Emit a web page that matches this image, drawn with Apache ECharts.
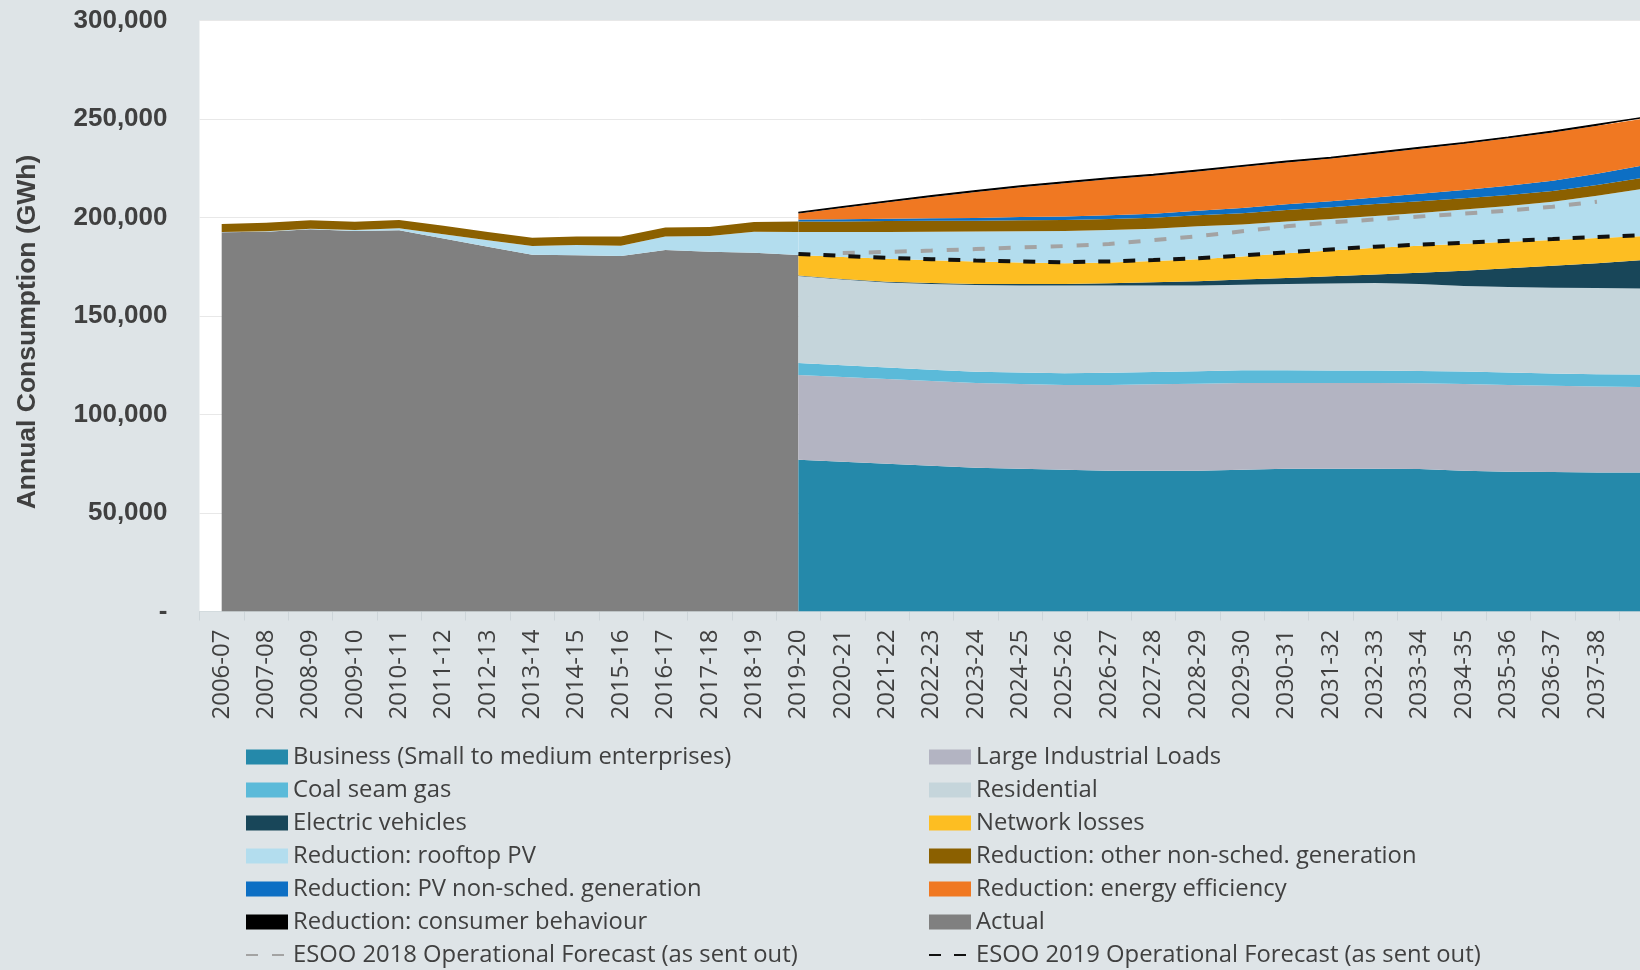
<!DOCTYPE html>
<html>
<head>
<meta charset="utf-8">
<script src="https://cdn.jsdelivr.net/npm/echarts@6/dist/echarts.min.js"></script>
<style>
html,body{margin:0;padding:0;background:#dee4e7;}
#chart{width:1640px;height:970px;}
</style>
</head>
<body>
<div id="chart"></div>
<script>
// ---------- DATA (GWh) ----------
const categories = ['2006-07','2007-08','2008-09','2009-10','2010-11','2011-12','2012-13','2013-14','2014-15','2015-16','2016-17','2017-18','2018-19','2019-20','2020-21','2021-22','2022-23','2023-24','2024-25','2025-26','2026-27','2027-28','2028-29','2029-30','2030-31','2031-32','2032-33','2033-34','2034-35','2035-36','2036-37','2037-38','2038-39'];

// historical period (2006-07 .. 2019-20)
const actual        = [192500,192800,194000,193100,193500,189400,185200,181100,180800,180500,183500,182600,182100,181000];
const rooftopPVHist = [100,200,300,500,1000,2100,3200,4400,5200,5200,6800,8000,10700,11600];
const otherNonSchedHist = [4100,4300,4300,4200,4200,4300,4300,4200,4400,4600,4600,4600,4900,5400];

// forecast period (2019-20 .. 2038-39)
const business      = [77000,76000,75000,74000,73000,72500,72000,71500,71500,71500,72000,72500,72500,72500,72300,71500,71000,70800,70600,70500];
const largeIndustrial = [43000,43000,43000,43000,43000,43000,43000,43500,43800,44100,44000,43500,43500,43500,43500,44000,44000,43800,43600,43500];
const coalSeamGas   = [6200,6000,5800,5700,5700,5800,6000,6200,6300,6400,6400,6400,6300,6300,6300,6300,6300,6200,6200,6300];
const residential   = [44100,43500,43200,43500,44000,44200,44500,44300,43900,43500,43400,43800,44200,44400,44200,43400,43400,43600,43800,43700];
const electricVehicles = [200,300,400,500,600,700,800,1100,1600,2200,2700,3100,3700,4400,5700,7800,9500,11100,12600,14300];
const networkLosses = [10500,11200,11600,11600,11400,11000,10500,10600,10800,11100,11700,12500,13100,13600,13700,13700,13500,13100,12800,12200];
const rooftopPV     = [11600,12600,13700,14500,15200,15800,16300,16500,16400,16700,16300,16200,16000,16100,16600,17300,18100,19400,21400,24000];
const otherNonSched = [5400,5400,5500,5500,5500,5600,5600,5600,5600,5600,5700,5800,5900,6000,6000,5800,5600,5500,5500,5500];
const pvNonSched    = [1000,1100,1200,1300,1400,1600,1800,1900,2000,2300,2600,2900,3100,3300,3700,4200,4700,5200,5700,6200];
const energyEfficiency = [3000,5800,8300,10800,13200,15200,16900,18200,19300,20000,20900,21200,21600,22300,22900,23400,24100,24500,24400,23800];
const consumerBehaviour = [600,600,600,600,600,600,600,600,600,600,600,600,600,600,600,600,600,600,600,600];

// operational forecasts (lines)
const esoo2019 = [181500,180500,179500,178800,178200,177700,177300,177700,178400,179300,180700,182300,183800,185200,186200,187200,188200,189100,190100,191000]; // from 2019-20
const esoo2018 = [182000,182500,183200,184000,184800,185500,186500,188500,190500,193000,195500,197500,199000,200500,202000,203500,205500,208000]; // 2020-21 .. 2037-38

const yTicks = {min: 0, max: 300000, interval: 50000};

// ---------- helpers ----------
const N = categories.length;
const FC_START = 13; // 2019-20
function hist(arr){ const out = new Array(N).fill(null); arr.forEach((v,i)=>{out[i]=v;}); return out; }
function fc(arr, start){ const out = new Array(N).fill(null); arr.forEach((v,i)=>{out[start+i]=v;}); return out; }

const COLORS = {
  business:'#2589aa', lil:'#b3b4c2', csg:'#5bbad9', res:'#c5d5db', ev:'#184659',
  net:'#fdbe22', pv:'#b3ddee', other:'#8b6000', pvns:'#0d6fc4', ee:'#f07822',
  cb:'#000000', actual:'#808080', e18:'#a3a3a3', e19:'#111111'
};

function area(name, data, color, stack, extra){
  return Object.assign({
    name, type:'line', stack, data, symbol:'none', showSymbol:false,
    itemStyle:{color}, lineStyle:{width:0, color}, areaStyle:{color, opacity:1},
    emphasis:{disabled:true}, z:2
  }, extra||{});
}

const series = [
  area('Actual', hist(actual), COLORS.actual, 'hist'),
  area('Reduction: rooftop PV', hist(rooftopPVHist), COLORS.pv, 'hist'),
  area('Reduction: other non-sched. generation', hist(otherNonSchedHist), COLORS.other, 'hist'),

  area('Business (Small to medium enterprises)', fc(business,FC_START), COLORS.business, 'fc'),
  area('Large Industrial Loads', fc(largeIndustrial,FC_START), COLORS.lil, 'fc'),
  area('Coal seam gas', fc(coalSeamGas,FC_START), COLORS.csg, 'fc'),
  area('Residential', fc(residential,FC_START), COLORS.res, 'fc'),
  area('Electric vehicles', fc(electricVehicles,FC_START), COLORS.ev, 'fc'),
  area('Network losses', fc(networkLosses,FC_START), COLORS.net, 'fc'),
  area('Reduction: rooftop PV', fc(rooftopPV,FC_START), COLORS.pv, 'fc'),
  area('Reduction: other non-sched. generation', fc(otherNonSched,FC_START), COLORS.other, 'fc'),
  area('Reduction: PV non-sched. generation', fc(pvNonSched,FC_START), COLORS.pvns, 'fc'),
  area('Reduction: energy efficiency', fc(energyEfficiency,FC_START), COLORS.ee, 'fc'),
  area('Reduction: consumer behaviour', fc(consumerBehaviour,FC_START), COLORS.cb, 'fc', {lineStyle:{width:1.5,color:'#000'}}),

  {name:'ESOO 2018 Operational Forecast (as sent out)', type:'line', data: fc(esoo2018, 14),
   symbol:'none', showSymbol:false, itemStyle:{color:COLORS.e18},
   lineStyle:{color:COLORS.e18, width:4, type:[12,14]}, z:5, emphasis:{disabled:true}},
  {name:'ESOO 2019 Operational Forecast (as sent out)', type:'line', data: fc(esoo2019, FC_START),
   symbol:'none', showSymbol:false, itemStyle:{color:COLORS.e19},
   lineStyle:{color:COLORS.e19, width:4, type:[12,13]}, z:6, emphasis:{disabled:true}}
];

const legendText = {fontFamily:'Open Sans', fontSize:23.8, color:'#404040', lineHeight:33};
const col1 = ['Business (Small to medium enterprises)','Coal seam gas','Electric vehicles','Reduction: rooftop PV','Reduction: PV non-sched. generation','Reduction: consumer behaviour'];
const col2 = ['Large Industrial Loads','Residential','Network losses','Reduction: other non-sched. generation','Reduction: energy efficiency','Actual'];
const lineLegend = n => ({name:n, itemStyle:{opacity:0}});

const chart = echarts.init(document.getElementById('chart'), null, {renderer:'canvas'});
chart.setOption({
  animation:false,
  backgroundColor:'#dee4e7',
  grid:{left:199.5, top:20.5, width:1464, height:591, show:true, backgroundColor:'#ffffff', borderWidth:0,
        containLabel:false, outerBoundsMode:'none'},
  legend:[
    {orient:'vertical', left:245, top:740.5, height:260, itemWidth:42, itemHeight:15, itemGap:0, padding:0,
     textStyle:legendText, selectedMode:false,
     data: col1.map(n=>({name:n, icon:'rect'})).concat([lineLegend('ESOO 2018 Operational Forecast (as sent out)')])},
    {orient:'vertical', left:928, top:740.5, height:260, itemWidth:42, itemHeight:15, itemGap:0, padding:0,
     textStyle:legendText, selectedMode:false,
     data: col2.map(n=>({name:n, icon:'rect'})).concat([lineLegend('ESOO 2019 Operational Forecast (as sent out)')])}
  ],
  xAxis:{
    type:'category', data:categories, boundaryGap:true,
    axisLine:{show:true, lineStyle:{color:'#d3dbde', width:1}},
    axisTick:{show:true, interval:0, length:9, lineStyle:{color:'#cdd5d9'}},
    axisLabel:{rotate:90, margin:18, interval:function(i){return i < N-1;},
      fontFamily:'Open Sans', fontSize:24, color:'#404040'}
  },
  yAxis:{
    type:'value', min:yTicks.min, max:yTicks.max, interval:yTicks.interval,
    name:'Annual Consumption (GWh)', nameLocation:'middle', nameGap:158,
    nameTextStyle:{fontFamily:'Liberation Sans', fontWeight:'bold', fontSize:26.5, color:'#404040', padding:[0,32,0,0]},
    axisLine:{show:false}, axisTick:{show:false},
    axisLabel:{margin:32, fontFamily:'Liberation Sans', fontWeight:'bold', fontSize:26, color:'#404040',
      formatter:function(v){ return v === 0 ? '-' : v.toLocaleString('en-US'); }},
    splitLine:{show:true, lineStyle:{color:'#e8e8e8', width:1}}
  },
  series: series
});
</script>
</body>
</html>
